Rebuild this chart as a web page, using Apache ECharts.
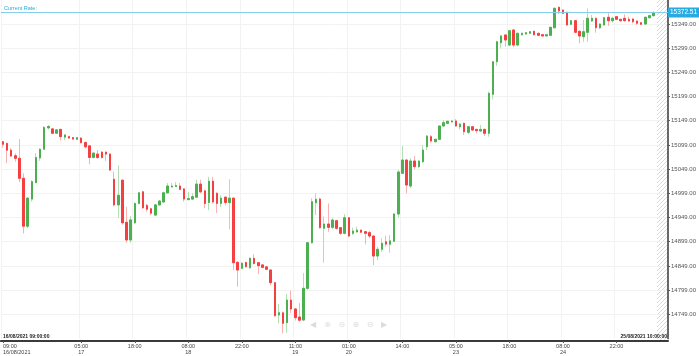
<!DOCTYPE html>
<html><head><meta charset="utf-8">
<script src="https://cdn.jsdelivr.net/npm/echarts@6/dist/echarts.min.js"></script>
<style>html,body{margin:0;padding:0;background:#fff}#c{width:699px;height:356px}</style>
</head><body><div id="c"></div>
<script>
// ---- data (hourly candles) ----
const opens = [15105.5,15102,15088,15076.6,15071.3,15030,14931,14987,15021,15072,15090,15134,15132,15123,15131,15115,15116,15114,15110.5,15113,
15104,15097,15073,15080,15084,15084,15080,15028,14975,15026,14939,14902.5,14938,14978,15002,14974,14967,14954,14975,14981,
15000,15012,15013,15014,15008,14986,14987,14991,15018,15004,14980,15024,14999,14978,14991,14980,14989,14856.4,14844,14856,
14845,14864.6,14855.6,14851,14847,14840.5,14814.3,14747.5,14752,14731.6,14778.5,14760,14743.4,14737.2,14802.7,14896.9,14979.6,14987,14926.6,14935.5,
14928.7,14942.3,14927.9,14916.3,14948.5,14916.3,14919,14923,14919.6,14917.6,14910.7,14869.4,14883.3,14898.7,14893.7,14899.7,14956.2,15040.3,15067.7,15014,
15065.7,15054,15064.2,15095.2,15115.9,15105.6,15110.5,15138,15143.5,15146.3,15148.4,15136.4,15143.5,15125,15136.4,15131,15127.6,15131,15122.9,15203.5,
15270.8,15310,15326,15305.3,15336.3,15305.3,15326.6,15328,15329.5,15333.6,15329.5,15326.6,15324,15325.4,15341,15383.2,15377.6,15372.9,15348.1,15355.5,
15333.6,15322.5,15331.6,15355,15360.5,15341,15346.7,15362.6,15355.5,15363.8,15358.4,15360.5,15358.4,15359,15354.9,15351.4,15348.7,15361.7,15365.9];
const highs = [15107,15104,15092,15081.6,15111,15040,14991,15026,15082,15092,15138,15140,15134,15131,15132,15121,15117,15115,15115,15115,
15106,15099,15084,15088,15086,15085,15082,15044,15057,15028,14971,14952,14980,15002,15004,14977,14969,14977,14985,15002,
15020,15020,15022,15020,15010,15002,14999,15027,15027,15006,15033,15033,15001,14995,14992,15028,14990,14858,14857,14858,
14867,14873,14857,14852,14848,14842,14816,14770,14755,14791,14798,14762,14772,14834,14898,14988.6,14999,14990,14951,14978,
14947.3,14944,14929,14955.6,14950,14928,14930,14924,14921,14921,14912,14888.7,14906,14911,14912.8,14958,15047,15096.7,15069,15071.3,
15076,15067,15098.7,15119.4,15119.4,15112,15139,15150.4,15149,15149.5,15152.4,15143.5,15145,15138,15137.5,15132,15140,15132.5,15208.8,15272,
15314,15326,15328,15336.3,15338,15331,15331,15332,15334,15335,15330.5,15327.5,15327.5,15343,15382.5,15384.5,15379,15374,15357,15357,
15335,15357,15381,15367.3,15362,15350,15363.5,15372,15363.8,15365,15359.5,15368.8,15363.8,15360.5,15356.3,15352.5,15364,15367.5,15375];
const lows = [15093.2,15061,15074,15064.2,15022,14916,14927,14982,15020,15066,15089,15131,15121,15122,15108,15109,15112,15110,15110,15102,
15092,15059,15071,15070,15071,15066,15045,14972,14948,14934,14897,14897,14936,14976,14967,14961,14954,14953,14973,14979,
14998,15011,15012,15006,14982,14984,14985,14989,14999,14968,14964,14977,14958,14971,14974,14925,14840.5,14806,14842,14845,
14843,14852,14832,14844,14840,14809,14744,14730.4,14709.7,14711,14751.6,14736,14733.7,14735,14800,14895,14954,14926,14855.6,14919.6,
14924.6,14924,14913,14914,14908,14912.8,14918,14917,14893.6,14906,14850.8,14861,14878,14888.7,14876.2,14898,14949,15039,14999,15009.3,
15048.5,15050.6,15062,15088.4,15103.5,15104,15109,15136,15142,15145.5,15136.4,15131,15119.4,15120.8,15127.6,15123,15126,15117.3,15115.9,15193,
15262,15298.5,15301.8,15303,15300.6,15303,15325,15327,15328,15325,15324,15323,15323,15324,15339,15369.4,15369,15344.6,15346,15329.5,
15308.8,15312,15312,15353,15330.8,15337.8,15345,15344.6,15351.4,15357,15353.5,15354,15353.5,15350,15346.7,15347,15347.5,15360,15364.5];
const closes = [15100.2,15088,15076,15071.3,15030,14931,14989,15023,15073,15090,15135,15137,15123,15130,15116,15119.5,15113,15111,15114,15103.5,
15095,15073,15082,15073,15073,15080,15047,14975,14995,14938,14902.5,14944,14978,15000,14969,14966,14958,14975,14983,15000,
15014,15014,15015,15007,14987,14988,14992,15018,15002,14978,15024,14981,14978,14989,14980,14989,14855.6,14840.5,14854.5,14847.5,
14864.6,14854,14849.5,14846,14842,14814.3,14746,14752.3,14730.4,14778.5,14760,14742,14736.8,14802.7,14896.9,14981.6,14986.6,14928,14935.5,14928.7,
14943.8,14926.6,14916.3,14948.5,14910.7,14921,14923,14918.5,14916.3,14910.7,14869.4,14883.3,14895.7,14894,14900.7,14956.2,15043,15067.7,15016.1,15065.7,
15054,15065.7,15088.4,15117.3,15107,15110.5,15138,15144.8,15147.7,15148.4,15138,15142,15126.2,15136.4,15129.7,15128.3,15131,15122.9,15205.5,15270.8,
15312,15324,15315.7,15334.9,15305.3,15329.5,15329.5,15330.8,15332.8,15326.6,15325.4,15324,15326.6,15341.9,15381.2,15375.6,15370.8,15346.7,15355.5,15331.6,
15323.9,15332.8,15360.5,15360.5,15341,15348.7,15361.8,15355.5,15360.5,15358.4,15355.5,15355.5,15354.9,15353.5,15350.2,15348.1,15362.6,15365.9,15372.5];
const currentRate = 15372.51;
const tickIndex = [0,19,32,45,58,71,84,97,110,123,136,149];
const tickText = ['09:00\n16/08/2021','05:00\n17','18:00','08:00\n18','22:00','11:00\n19','01:00\n20','14:00','05:00\n23','18:00','08:00\n24','22:00'];
const yMin = 14699, yMax = 15398.3, yStep = 50;
const startLabel = '16/08/2021 09:00:00';
const endLabel = '25/08/2021 10:00:00';
const toolIcons = ['◀', '⊕', '⊖', '⊕', '⊖', '▶'];
const emptySlots = 3;

// ---- build ----
const categories = opens.map((_, i) => ({ value: 'c' + i }))
  .concat(Array.from({ length: emptySlots }, (_, i) => ({ value: 'e' + i })));
categories[0].textStyle = { align: 'left' };
const wickData = opens.map((o, i) => [o, closes[i], lows[i], highs[i]]);
const bodyData = opens.map((o, i) => [o, closes[i], Math.min(o, closes[i]), Math.max(o, closes[i])]);
const showTick = (idx) => tickIndex.indexOf(idx) >= 0;

const pat = document.createElement('canvas');
pat.width = 4; pat.height = 4;
const pc = pat.getContext('2d');
pc.strokeStyle = '#dadada'; pc.lineWidth = 1;
pc.beginPath(); pc.moveTo(-1, 5); pc.lineTo(5, -1); pc.stroke();

const FONT = 'Liberation Sans, Arial, sans-serif';
const iconGraphics = toolIcons.map((t, i) => ({
  type: 'text', x: 310 + i * 14.2, y: 321, silent: true, z: 5,
  style: { text: t, fontSize: 8, fill: '#dcdcdc', fontFamily: 'DejaVu Sans' }
}));

const chart = echarts.init(document.getElementById('c'), null, { renderer: 'canvas' });
chart.setOption({
  animation: false,
  backgroundColor: '#fff',
  textStyle: { fontFamily: FONT },
  grid: { left: 0, right: 30, top: 0, bottom: 17.5, containLabel: false },
  xAxis: {
    type: 'category', data: categories, boundaryGap: true, offset: 2.5,
    axisLine: { lineStyle: { color: '#3a3a3a', width: 2 } },
    axisTick: { show: true, alignWithLabel: true, interval: showTick, length: 2, lineStyle: { color: '#555' } },
    axisLabel: {
      interval: showTick, fontSize: 5.5, lineHeight: 6, color: '#444', margin: 2.5,
      alignMinLabel: 'left',
      formatter: (v, idx) => { const k = tickIndex.indexOf(idx); return k >= 0 ? tickText[k] : ''; }
    },
    splitLine: { show: true, interval: showTick, lineStyle: { color: '#f2f2f2', width: 1 } }
  },
  yAxis: {
    type: 'value', position: 'right', min: yMin, max: yMax, interval: yStep, scale: true,
    axisLine: { show: true, lineStyle: { color: '#3a3a3a', width: 1.5 } },
    axisTick: { show: true, length: 2, lineStyle: { color: '#555' } },
    axisLabel: { fontSize: 6, color: '#555', margin: 3, showMinLabel: false, showMaxLabel: false,
      formatter: (v) => v.toFixed(2) },
    splitLine: { show: true, showMinLine: false, showMaxLine: false, lineStyle: { color: '#f2f2f2', width: 1 } }
  },
  graphic: [
    { type: 'rect', shape: { x: 657, y: 0, width: 12, height: 341 }, style: { fill: { image: pat, repeat: 'repeat' } }, z: 0, silent: true },
    { type: 'text', left: 3, top: 334, style: { text: startLabel, fontSize: 5, fill: '#222', fontWeight: 'bold', fontFamily: FONT }, z: 10 },
    { type: 'text', right: 32, top: 334, style: { text: endLabel, fontSize: 5, fill: '#222', fontWeight: 'bold', fontFamily: FONT }, z: 10 }
  ].concat(iconGraphics),
  series: [
    {
      type: 'candlestick', name: 'wick', data: wickData, barWidth: 2, silent: true,
      itemStyle: { color: '#b2dfb2', color0: '#f7b3b3', borderColor: '#b2dfb2', borderColor0: '#f7b3b3', borderWidth: 1 }
    },
    {
      type: 'candlestick', name: 'body', data: bodyData, barWidth: 2, silent: true,
      itemStyle: { color: '#4cb050', color0: '#f44040', borderColor: '#4cb050', borderColor0: '#f44040', borderWidth: 1 },
      markLine: {
        symbol: 'none', silent: true, animation: false,
        lineStyle: { color: '#86cfe8', width: 1, type: 'solid' },
        data: [
          { yAxis: currentRate, label: { show: true, position: 'insideStartTop', distance: [3, 1], formatter: 'Current Rate:', color: '#29abe2', fontSize: 5.5 } },
          { yAxis: currentRate, label: { show: true, position: 'end', distance: 0, formatter: currentRate.toFixed(2), color: '#fff', backgroundColor: '#29abe2', padding: [2, 2, 1, 2], fontSize: 6.5 } }
        ]
      }
    }
  ]
});
</script></body></html>
